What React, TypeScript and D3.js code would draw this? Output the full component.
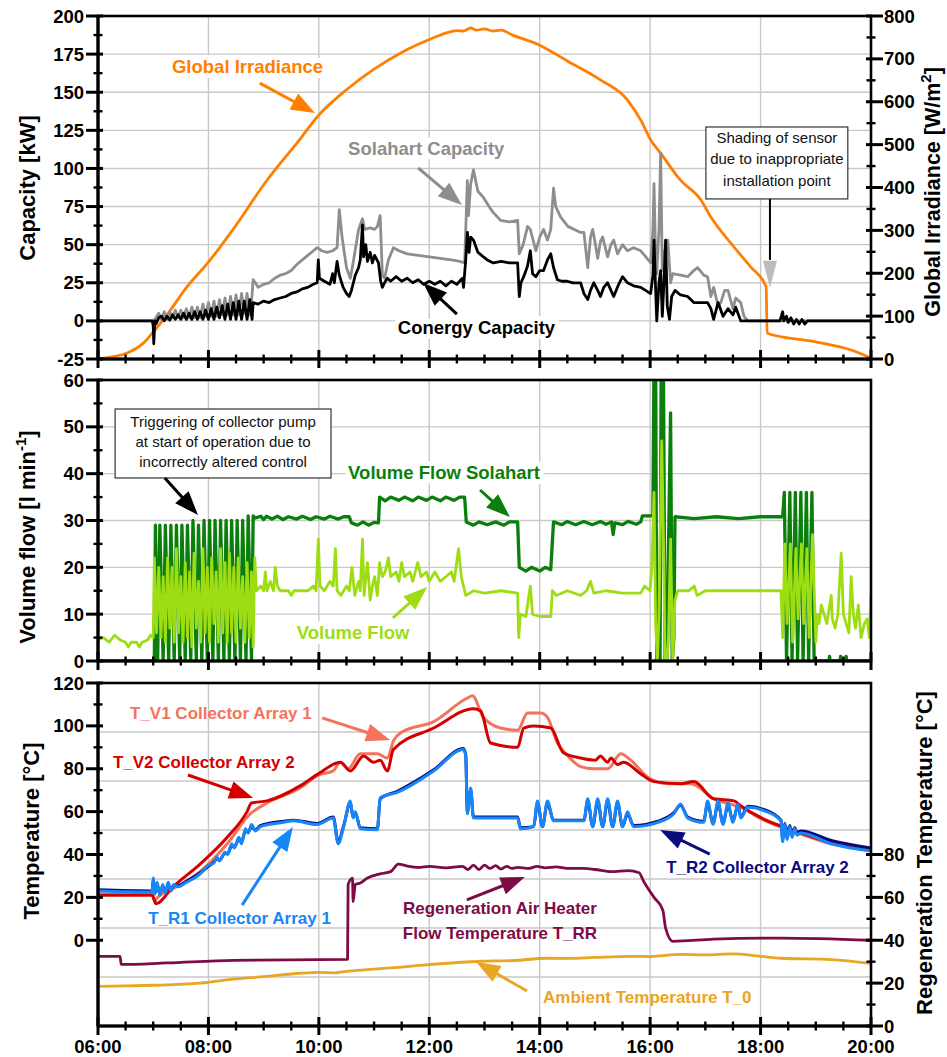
import React from 'react';
import * as d3 from 'd3';

type Pt = [number, number];

// ---------------- DATA (hours of day, value) ----------------
const timeTicks = ['06:00', '08:00', '10:00', '12:00', '14:00', '16:00', '18:00', '20:00'];
const capTicks = [-25, 0, 25, 50, 75, 100, 125, 150, 175, 200];
const irrTicks = [0, 100, 200, 300, 400, 500, 600, 700, 800];
const flowTicks = [0, 10, 20, 30, 40, 50, 60];
const tempTicks = [0, 20, 40, 60, 80, 100, 120];
const regTicks = [0, 20, 40, 60, 80];

const globalIrradiance: Pt[] = [
  [6.0, 0], [6.25, 5], [6.53, 14], [6.82, 37], [7.0, 63], [7.25, 103], [7.61, 168], [8.0, 226],
  [8.45, 303], [9.06, 417], [9.66, 513], [10.0, 569], [10.5, 628], [11.0, 676], [11.5, 715],
  [12.0, 745], [12.3, 760], [12.5, 766], [12.62, 765], [12.75, 772], [12.85, 767], [13.0, 770],
  [13.15, 765], [13.3, 767], [13.5, 756], [14.0, 732], [14.5, 695], [15.1, 651], [15.59, 604],
  [15.83, 557], [16.01, 511], [16.19, 480], [16.55, 417], [16.92, 371], [17.1, 331], [17.52, 261],
  [17.82, 215], [18.08, 174], [18.1, 168], [18.12, 60], [19.0, 40], [19.64, 21], [20.0, 2],
];

const conergyCapacity: Pt[] = [
  [6.0, 0], [6.98, 0], [7.0, -3], [7.01, -15], [7.03, 0], [7.05, -2], [7.1, 2], [7.15, 3], [7.2, 0],
  [7.25, 3], [7.3, 0.5], [7.35, 4], [7.4, 1], [7.45, 4], [7.5, 1], [7.55, 5], [7.6, 1], [7.65, 5],
  [7.7, 1], [7.75, 6], [7.8, 1], [7.85, 6], [7.9, 1], [7.95, 7], [8.0, 1], [8.05, 8], [8.1, 1],
  [8.15, 9], [8.2, 2], [8.25, 10], [8.3, 1], [8.35, 11], [8.4, 1], [8.45, 12], [8.5, 1], [8.55, 13],
  [8.6, 1], [8.65, 13], [8.7, 1], [8.75, 14], [8.79, 1], [8.81, 12], [8.9, 11], [9.0, 13], [9.1, 12],
  [9.2, 14], [9.3, 15], [9.4, 16], [9.5, 18], [9.6, 19], [9.7, 21], [9.8, 22], [9.9, 24], [9.97, 25],
  [9.99, 40], [10.01, 28], [10.1, 26], [10.2, 24], [10.25, 31], [10.28, 25], [10.33, 39], [10.37, 30],
  [10.44, 22], [10.5, 18], [10.55, 16], [10.59, 20], [10.66, 30], [10.72, 35], [10.75, 40], [10.79, 63],
  [10.81, 42], [10.85, 50], [10.88, 39], [10.93, 45], [10.97, 38], [11.01, 43], [11.08, 38], [11.12, 26],
  [11.15, 22], [11.19, 25], [11.24, 28], [11.3, 26], [11.4, 29], [11.5, 26], [11.6, 28], [11.7, 25],
  [11.8, 27], [11.9, 24], [12.0, 26], [12.1, 24], [12.2, 26], [12.3, 23], [12.4, 26], [12.5, 24],
  [12.6, 28], [12.62, 22], [12.66, 40], [12.69, 58], [12.72, 45], [12.75, 55], [12.8, 53], [12.88, 45],
  [12.98, 42], [13.05, 40], [13.16, 38], [13.3, 39], [13.45, 38], [13.6, 38], [13.63, 16], [13.66, 25],
  [13.71, 29], [13.78, 36], [13.83, 46], [13.87, 31], [13.93, 29], [14.0, 33], [14.07, 33], [14.14, 40],
  [14.2, 44], [14.25, 35], [14.32, 27], [14.4, 26], [14.5, 26], [14.6, 25], [14.74, 25], [14.8, 18],
  [14.87, 14], [14.92, 20], [14.98, 25], [15.05, 20], [15.1, 16], [15.16, 22], [15.23, 25], [15.29, 20],
  [15.34, 16], [15.43, 24], [15.5, 29], [15.59, 25], [15.7, 23], [15.83, 22], [15.96, 19], [16.01, 18],
  [16.05, 30], [16.07, 53], [16.1, 20], [16.12, 0], [16.16, 25], [16.19, 33], [16.22, 3], [16.25, 25],
  [16.28, 53], [16.31, 10], [16.35, 1], [16.39, 16], [16.45, 20], [16.55, 17], [16.68, 16], [16.79, 12],
  [16.92, 12], [17.04, 12], [17.1, 8], [17.15, 1], [17.23, 12], [17.32, 3], [17.41, 8], [17.5, 4],
  [17.55, 9], [17.64, 0], [17.77, 0], [18.0, 0], [18.35, 0], [18.4, 6], [18.42, 0], [18.47, 3],
  [18.5, -1], [18.55, 2], [18.6, -2], [18.65, 1], [18.7, -2], [18.75, 1], [18.8, -2], [18.85, 0], [20.0, 0],
];

const solahartCapacity: Pt[] = [
  [6.0, 0], [7.0, 0], [7.03, 1], [7.1, 5], [7.15, 1], [7.2, 6], [7.25, 1], [7.3, 6], [7.35, 2], [7.4, 7],
  [7.45, 2], [7.5, 7], [7.55, 2], [7.6, 8], [7.65, 2], [7.7, 9], [7.75, 2], [7.8, 9], [7.85, 2], [7.9, 11],
  [7.95, 3], [8.0, 12], [8.05, 3], [8.1, 13], [8.15, 3], [8.2, 14], [8.25, 4], [8.3, 15], [8.35, 4],
  [8.4, 16], [8.45, 4], [8.5, 17], [8.55, 4], [8.6, 18], [8.65, 5], [8.7, 18], [8.75, 4], [8.79, 17],
  [8.81, 27], [8.85, 25], [8.9, 22], [9.0, 24], [9.1, 25], [9.2, 28], [9.3, 30], [9.4, 31], [9.5, 33],
  [9.6, 37], [9.7, 40], [9.8, 43], [9.9, 46], [9.97, 48], [10.05, 46], [10.15, 45], [10.25, 46],
  [10.33, 48], [10.37, 73], [10.42, 55], [10.5, 35], [10.57, 28], [10.62, 38], [10.72, 60], [10.79, 67],
  [10.83, 60], [10.93, 61], [11.01, 60], [11.06, 62], [11.11, 69], [11.15, 30], [11.19, 28], [11.26, 40],
  [11.35, 48], [11.45, 46], [11.6, 44], [11.8, 43], [12.0, 42], [12.2, 41], [12.4, 40], [12.55, 39],
  [12.64, 38], [12.69, 92], [12.71, 69], [12.75, 90], [12.8, 99], [12.88, 85], [12.98, 81], [13.1, 74],
  [13.16, 71], [13.29, 66], [13.45, 65], [13.6, 66], [13.63, 44], [13.7, 50], [13.78, 62], [13.83, 60],
  [13.93, 46], [14.0, 55], [14.07, 60], [14.14, 53], [14.2, 60], [14.25, 87], [14.29, 75], [14.38, 68],
  [14.51, 62], [14.74, 58], [14.8, 58], [14.87, 35], [14.92, 55], [14.96, 60], [15.01, 50], [15.05, 41],
  [15.1, 52], [15.14, 55], [15.23, 42], [15.29, 50], [15.34, 53], [15.41, 44], [15.5, 50], [15.59, 46],
  [15.7, 48], [15.83, 46], [16.01, 38], [16.05, 60], [16.07, 90], [16.1, 40], [16.12, 31], [16.16, 60],
  [16.19, 110], [16.22, 33], [16.26, 45], [16.32, 53], [16.37, 25], [16.41, 31], [16.55, 30],
  [16.68, 29], [16.79, 33], [16.86, 35], [16.97, 30], [17.04, 29], [17.1, 16], [17.15, 22], [17.23, 10],
  [17.28, 12], [17.35, 20], [17.41, 20], [17.5, 8], [17.55, 15], [17.64, 12], [17.7, 3], [17.77, 0],
  [20.0, 0],
];

const volumeFlowSolahart: Pt[] = [
  [6.0, 0], [7.0, 0], [7.02, 0], [7.04, 29], [7.08, 0], [7.12, 29], [7.18, 0], [7.22, 29], [7.28, 0],
  [7.32, 29], [7.38, 0], [7.42, 29], [7.48, 0], [7.52, 29], [7.58, 0], [7.62, 29], [7.68, 0], [7.72, 30],
  [7.78, 0], [7.82, 29], [7.88, 0], [7.92, 30], [7.98, 0], [8.02, 30], [8.08, 0], [8.12, 30], [8.18, 0],
  [8.22, 30], [8.28, 0], [8.32, 30], [8.38, 0], [8.42, 30], [8.48, 0], [8.52, 30], [8.58, 0], [8.62, 30],
  [8.68, 0], [8.72, 31], [8.78, 0], [8.81, 31], [8.84, 30.5], [8.95, 30.9], [9.0, 30.2], [9.05, 30.9],
  [9.15, 30.3], [9.25, 30.9], [9.35, 30.2], [9.45, 30.8], [9.6, 30.3], [9.7, 30.9], [9.85, 30.2],
  [9.95, 30.8], [10.1, 30.3], [10.2, 30.9], [10.35, 30.3], [10.45, 30.8], [10.55, 30.8], [10.59, 29.5],
  [10.7, 29.0], [10.8, 29.7], [10.9, 29.0], [11.0, 29.6], [11.08, 29.5], [11.1, 35], [11.2, 34.2],
  [11.3, 35], [11.45, 34.3], [11.55, 35], [11.7, 34.2], [11.8, 35], [11.95, 34.3], [12.05, 35],
  [12.2, 34.2], [12.3, 35], [12.45, 34.3], [12.55, 35], [12.64, 35], [12.67, 29.7], [12.8, 29.0],
  [12.9, 29.7], [13.05, 29.1], [13.2, 29.7], [13.35, 29.0], [13.45, 29.7], [13.6, 29.7], [13.63, 20],
  [13.75, 19.2], [13.85, 20], [14.0, 19.2], [14.1, 20], [14.2, 19.5], [14.25, 29.7], [14.4, 29.1],
  [14.5, 29.8], [14.65, 29.1], [14.8, 29.8], [14.95, 29.1], [15.1, 29.8], [15.2, 29.2], [15.3, 29.7],
  [15.33, 27], [15.36, 29.5], [15.5, 29.1], [15.6, 29.8], [15.75, 29.2], [15.83, 29.7], [15.86, 31],
  [16.05, 31], [16.07, 65], [16.1, 65], [16.12, 0], [16.18, 0], [16.2, 65], [16.24, 65], [16.27, 0],
  [16.3, 0], [16.37, 53], [16.4, 0], [16.43, 5], [16.45, 30.8], [16.8, 30.4], [17.2, 30.8],
  [17.6, 30.4], [18.0, 30.8], [18.4, 30.8], [18.43, 36], [18.47, 0], [18.53, 36], [18.57, 0],
  [18.63, 36], [18.67, 0], [18.73, 36], [18.77, 0], [18.83, 36], [18.87, 0], [18.93, 36], [18.97, 0],
  [19.24, 0], [19.25, 1], [19.26, 0], [19.44, 0], [19.45, 1], [19.46, 0], [19.54, 0], [19.55, 1],
  [19.56, 0], [20.0, 0],
];

const volumeFlow: Pt[] = [
  [6.0, 4.5], [6.1, 5], [6.2, 4], [6.3, 5.5], [6.4, 4.5], [6.5, 4], [6.55, 3], [6.6, 4], [6.7, 4],
  [6.75, 3], [6.8, 4], [6.9, 4.5], [6.95, 5.5], [7.0, 5], [7.02, 22], [7.06, 6], [7.1, 20], [7.14, 5],
  [7.18, 18], [7.22, 4], [7.26, 22], [7.3, 7], [7.34, 20], [7.38, 4], [7.42, 24], [7.46, 6], [7.5, 18],
  [7.54, 4], [7.58, 21], [7.62, 5], [7.66, 19], [7.7, 3], [7.74, 23], [7.78, 7], [7.82, 17], [7.86, 4],
  [7.9, 24], [7.94, 6], [7.98, 20], [8.02, 4], [8.06, 22], [8.1, 8], [8.14, 19], [8.18, 4], [8.22, 24],
  [8.26, 6], [8.3, 21], [8.34, 4], [8.38, 23], [8.42, 6], [8.46, 20], [8.5, 4], [8.54, 22], [8.58, 7],
  [8.62, 18], [8.66, 4], [8.7, 21], [8.74, 5], [8.78, 19], [8.81, 3], [8.84, 22], [8.87, 15], [8.95, 16],
  [9.0, 15], [9.03, 19], [9.06, 15], [9.12, 17], [9.18, 15], [9.21, 20], [9.25, 16], [9.3, 15],
  [9.45, 15], [9.5, 14], [9.55, 15], [9.8, 15], [9.9, 16], [9.95, 15], [9.99, 26], [10.02, 16],
  [10.1, 15], [10.2, 17], [10.26, 16], [10.3, 24], [10.33, 15], [10.4, 14], [10.5, 16], [10.55, 15],
  [10.6, 20], [10.65, 14], [10.72, 17], [10.75, 15], [10.79, 26], [10.82, 14], [10.88, 21], [10.93, 13],
  [10.97, 16], [11.01, 18], [11.06, 14], [11.1, 21], [11.15, 18], [11.2, 19], [11.26, 22], [11.3, 18],
  [11.4, 19], [11.45, 17], [11.5, 21], [11.55, 18], [11.65, 19], [11.7, 17], [11.79, 21], [11.85, 18],
  [11.95, 19], [12.0, 17], [12.1, 19], [12.2, 17], [12.3, 18], [12.4, 19], [12.45, 17], [12.53, 24],
  [12.58, 18], [12.64, 15], [12.66, 14], [12.8, 15], [13.0, 14.5], [13.3, 15], [13.6, 14.5], [13.62, 5],
  [13.65, 10], [13.75, 9.5], [13.83, 16], [13.87, 10], [14.0, 9.5], [14.2, 9.5], [14.23, 15], [14.3, 14],
  [14.5, 15], [14.74, 14], [14.85, 15], [14.92, 17], [14.98, 14.5], [15.2, 15], [15.5, 14.5],
  [15.83, 14.5], [15.9, 16], [16.0, 15], [16.03, 20], [16.07, 36], [16.1, 8], [16.13, 0], [16.16, 10],
  [16.21, 47], [16.25, 20], [16.27, 0], [16.3, 0], [16.33, 4], [16.37, 26], [16.41, 0], [16.45, 13],
  [16.5, 15], [16.7, 15], [16.8, 16], [16.85, 14], [17.0, 15], [17.5, 15], [17.8, 15], [18.2, 15],
  [18.37, 15], [18.4, 5], [18.44, 25], [18.48, 8], [18.54, 25], [18.58, 4], [18.64, 24], [18.68, 9],
  [18.74, 25], [18.78, 8], [18.84, 24], [18.88, 5], [18.94, 27], [19.0, 4], [19.03, 10], [19.06, 8],
  [19.1, 12], [19.15, 10], [19.2, 8], [19.24, 11], [19.28, 14], [19.3, 9], [19.35, 7], [19.4, 10],
  [19.46, 23], [19.5, 10], [19.55, 8], [19.6, 6], [19.64, 18], [19.68, 10], [19.72, 7], [19.77, 12],
  [19.82, 5], [19.88, 8], [19.93, 9], [19.97, 5], [20.0, 14],
];

const tV1: Pt[] = [
  [6.0, 21.5], [6.98, 21.5], [7.03, 18], [7.07, 19.7], [7.36, 24], [7.85, 32], [8.34, 45], [8.76, 59],
  [9.06, 64], [9.66, 71], [9.99, 77], [10.26, 79], [10.39, 83], [10.53, 80], [10.75, 87], [10.88, 87],
  [11.06, 87], [11.24, 85], [11.35, 93], [11.5, 97], [12.08, 102], [12.69, 113], [12.78, 114],
  [12.98, 104], [13.29, 99], [13.6, 98], [13.78, 106], [13.89, 106], [14.02, 106], [14.14, 104],
  [14.32, 92], [14.51, 86], [14.74, 81], [14.98, 80], [15.23, 80], [15.47, 87], [15.65, 84],
  [15.96, 76], [16.32, 73], [16.74, 73], [17.15, 66], [17.64, 62], [18.06, 56], [18.68, 50],
  [19.28, 45], [20.0, 42.5],
];

const tV2: Pt[] = [
  [6.0, 21], [6.98, 21], [7.05, 17], [7.36, 25], [7.85, 35.5], [8.34, 48], [8.7, 60], [8.78, 64],
  [9.06, 65], [9.66, 72], [9.99, 77.6], [10.39, 83], [10.57, 79], [10.81, 86], [10.99, 83], [11.11, 84],
  [11.24, 79], [11.35, 89], [12.08, 99], [12.8, 108], [12.93, 107], [13.11, 92], [13.6, 90],
  [13.71, 99], [13.89, 100], [14.2, 99], [14.43, 87.5], [14.74, 85], [15.01, 84], [15.1, 86],
  [15.23, 83], [15.29, 85], [15.41, 82], [15.52, 83], [15.83, 77.6], [16.07, 74], [16.55, 73],
  [16.79, 74], [17.15, 66], [17.52, 65], [17.64, 62.7], [18.06, 56.5], [18.68, 50.5], [19.28, 45.5],
  [20.0, 42.8],
];

const tR1: Pt[] = [
  [6.0, 23], [6.98, 22.5], [7.0, 29], [7.03, 21.5], [7.07, 27], [7.12, 21], [7.17, 26], [7.22, 22],
  [7.27, 27], [7.32, 23], [7.37, 26], [7.45, 25], [7.6, 27], [7.85, 31], [8.0, 35], [8.1, 36],
  [8.15, 39], [8.2, 37], [8.3, 41], [8.35, 40], [8.42, 45], [8.47, 43], [8.55, 48], [8.6, 45],
  [8.67, 52], [8.72, 50], [8.78, 54], [8.85, 51], [8.94, 53], [9.36, 55], [9.54, 55.7], [9.97, 54],
  [10.26, 57], [10.35, 45], [10.45, 53], [10.57, 65], [10.62, 57], [10.66, 60], [10.75, 52],
  [11.06, 51.5], [11.11, 66.5], [11.42, 69], [12.08, 79], [12.62, 89], [12.66, 86], [12.69, 59],
  [12.75, 71], [12.8, 57], [13.29, 57], [13.6, 57], [13.65, 52], [13.89, 53], [13.96, 65], [14.05, 53],
  [14.14, 65], [14.25, 55.7], [14.8, 55.7], [14.87, 66], [14.96, 53], [15.05, 66], [15.14, 53],
  [15.23, 66], [15.32, 53], [15.41, 65], [15.5, 53], [15.59, 60], [15.7, 53], [16.14, 55], [16.43, 59],
  [16.55, 63.6], [16.68, 57], [16.97, 55], [17.04, 65], [17.14, 54], [17.23, 65], [17.32, 54],
  [17.41, 64], [17.5, 55], [17.59, 63.6], [17.64, 57], [17.77, 62], [18.06, 60.5], [18.37, 55.7],
  [18.4, 46], [18.44, 54], [18.48, 47], [18.53, 53], [18.57, 48], [18.62, 52], [18.66, 49], [18.73, 50],
  [19.28, 45], [20.0, 41.6],
];

const tR2: Pt[] = [
  [6.0, 23.5], [6.98, 23], [7.0, 28], [7.03, 22], [7.07, 26], [7.12, 21.5], [7.17, 25], [7.22, 22.5],
  [7.27, 26], [7.32, 23.5], [7.37, 25.5], [7.45, 25.5], [7.6, 27.5], [7.85, 31.5], [8.0, 34.5],
  [8.1, 36.5], [8.15, 38], [8.2, 37.5], [8.3, 40.5], [8.35, 40.5], [8.42, 44], [8.47, 43.5], [8.55, 47],
  [8.6, 46], [8.67, 51], [8.72, 50.5], [8.78, 53], [8.85, 51.5], [8.94, 53.5], [9.36, 55.5], [9.54, 56],
  [9.97, 54.5], [10.26, 57.5], [10.35, 46], [10.45, 53.5], [10.57, 64], [10.62, 57.5], [10.66, 59.5],
  [10.75, 52.5], [11.06, 52], [11.11, 66], [11.42, 69.5], [12.08, 79.5], [12.62, 89.5], [12.66, 86.5],
  [12.69, 60], [12.75, 70], [12.8, 57.5], [13.29, 57.5], [13.6, 57.5], [13.65, 52.5], [13.89, 53],
  [13.96, 64], [14.05, 53], [14.14, 64], [14.25, 56], [14.8, 56], [14.87, 65], [14.96, 53], [15.05, 65],
  [15.14, 53], [15.23, 65], [15.32, 53], [15.41, 64], [15.5, 53], [15.59, 59], [15.7, 53.5],
  [16.14, 55.5], [16.43, 59.5], [16.55, 63], [16.68, 57.5], [16.97, 55.5], [17.04, 64], [17.14, 54.5],
  [17.23, 64], [17.32, 54.5], [17.41, 63], [17.5, 55.5], [17.59, 63], [17.64, 57.5], [17.77, 62.5],
  [18.06, 61], [18.37, 56], [18.4, 47], [18.44, 54.5], [18.48, 48], [18.53, 53.5], [18.57, 49],
  [18.62, 52.5], [18.66, 50], [18.73, 51], [19.28, 46.5], [20.0, 43],
];

// regeneration temperature T_RR and ambient T_0 are plotted against the left (°C) axis
const tRR: Pt[] = [
  [6.0, -7.5], [6.4, -7.5], [6.42, -11.3], [7.25, -10.6], [8.45, -9.4], [10.52, -8.9], [10.53, 26],
  [10.61, 29], [10.62, 18], [10.66, 26], [10.75, 26.7], [10.88, 29], [11.11, 31], [11.3, 32],
  [11.44, 35.5], [11.6, 34.6], [11.8, 34], [12.0, 34.5], [12.3, 33.8], [12.6, 34.5], [12.7, 33],
  [12.8, 35], [12.9, 33], [13.0, 35], [13.1, 33.5], [13.2, 34.8], [13.3, 33.2], [13.4, 34.5],
  [13.5, 33.5], [13.6, 34], [13.8, 33.5], [13.95, 34.5], [14.1, 33.8], [14.3, 34.2], [14.5, 33.5],
  [14.8, 33.5], [15.0, 33], [15.3, 32], [15.6, 32.5], [15.8, 31.5], [15.88, 27.6], [16.07, 20],
  [16.23, 14], [16.28, 5.6], [16.41, -0.5], [17.15, 0.5], [18.37, 1], [20.0, 0],
];

const tAmbient: Pt[] = [
  [6.0, -21.5], [6.5, -21.3], [7.0, -21], [7.85, -20], [8.5, -18], [9.0, -17], [9.66, -15.4],
  [10.0, -15], [10.3, -15.2], [10.5, -14.5], [10.88, -13.7], [11.5, -12.5], [12.08, -11.2],
  [12.93, -9.8], [13.5, -9.5], [14.14, -8.4], [14.5, -8.5], [15.0, -8], [15.65, -7.5], [16.0, -7.6],
  [16.55, -6.6], [17.0, -6.8], [17.5, -6.4], [18.0, -7.5], [18.37, -8.4], [19.28, -9], [20.0, -10.8],
];

// ---------------- LAYOUT ----------------
const W = 947;
const H = 1057;
const X0 = 98;
const X1 = 871;
const P1 = { top: 16, bottom: 359 };
const P2 = { top: 380, bottom: 661 };
const P3 = { top: 683, bottom: 1026 };
const FONT = '"Liberation Sans", Arial, Helvetica, sans-serif';

const C = {
  irr: '#FF8000',
  sol: '#8E8E8E',
  con: '#000000',
  vfs: '#0B7F0B',
  vf: '#9EDD14',
  tv1: '#F4735D',
  tv2: '#D40000',
  tr1: '#1786F8',
  tr2: '#0B0B7E',
  trr: '#7D0C46',
  amb: '#E9A524',
  grid: '#C9C9C9',
};

const x = d3.scaleLinear().domain([6, 20]).range([X0, X1]);
const yCap = d3.scaleLinear().domain([-25, 200]).range([P1.bottom, P1.top]);
const yIrr = d3.scaleLinear().domain([0, 800]).range([P1.bottom, P1.top]);
const yFlow = d3.scaleLinear().domain([0, 60]).range([P2.bottom, P2.top]);
const yTemp = d3.scaleLinear().domain([-40, 120]).range([P3.bottom, P3.top]);
const yReg = d3.scaleLinear().domain([0, 160]).range([P3.bottom, P3.top]);

const mkLine = (ys: d3.ScaleLinear<number, number>, smooth = false) => {
  const l = d3.line<Pt>().x((d) => x(d[0])).y((d) => ys(d[1]));
  return smooth ? l.curve(d3.curveMonotoneX) : l;
};

function Arrow({ t1, v1, t2, v2, ys, color, len = 24, w = 18, sw = 3 }: any) {
  const x1 = x(t1), y1 = ys(v1), x2 = x(t2), y2 = ys(v2);
  const dx = x2 - x1, dy = y2 - y1;
  const L = Math.hypot(dx, dy);
  const ux = dx / L, uy = dy / L;
  const bx = x2 - ux * len, by = y2 - uy * len;
  const px = (-uy * w) / 2, py = (ux * w) / 2;
  return (
    <g>
      <line x1={x1} y1={y1} x2={bx + ux * 3} y2={by + uy * 3} stroke={color} strokeWidth={sw} />
      <polygon points={`${x2},${y2} ${bx + px},${by + py} ${bx - px},${by - py}`} fill={color} />
    </g>
  );
}

function Label({ t, v, ys, color, size, anchor = 'start', children }: any) {
  return (
    <text x={x(t)} y={ys(v)} fill={color} fontSize={size} fontWeight="bold" textAnchor={anchor}
      fontFamily={FONT}>{children}</text>
  );
}

function Halo({ t, v, ys, size, anchor = 'start', children }: any) {
  return (
    <text x={x(t)} y={ys(v)} fill="#fff" stroke="#fff" strokeWidth={10} strokeLinejoin="round"
      fontSize={size} fontWeight="bold" textAnchor={anchor} fontFamily={FONT}>{children}</text>
  );
}

function Frame({ p }: { p: { top: number; bottom: number } }) {
  const hours = d3.range(6, 20.01, 0.5);
  return (
    <g>
      <rect x={X0} y={p.top} width={X1 - X0} height={p.bottom - p.top} fill="none" stroke="#000" strokeWidth={2.6} />
      <line x1={X0} x2={X0} y1={p.top} y2={p.bottom} stroke="#000" strokeWidth={3.2} />
      <line x1={X0} x2={X1} y1={p.bottom} y2={p.bottom} stroke="#000" strokeWidth={3.2} />
      {hours.map((h, i) => {
        const major = Math.abs(h - Math.round(h / 2) * 2) < 1e-6;
        return (
          <line key={i} x1={x(h)} x2={x(h)} y1={p.bottom - (major ? 9 : 4.5)} y2={p.bottom + (major ? 9 : 4.5)}
            stroke="#000" strokeWidth={major ? 3 : 2.4} />
        );
      })}
    </g>
  );
}

function VGrid({ p }: { p: { top: number; bottom: number } }) {
  return (
    <g>
      {[8, 10, 12, 14, 16, 18].map((h) => (
        <line key={h} x1={x(h)} x2={x(h)} y1={p.top} y2={p.bottom} stroke={C.grid} strokeWidth={1.4} />
      ))}
    </g>
  );
}

function HGrid({ ys }: { ys: number[] }) {
  return (
    <g>
      {ys.map((y, i) => (
        <line key={i} x1={X0} x2={X1} y1={y} y2={y} stroke={C.grid} strokeWidth={1.4} />
      ))}
    </g>
  );
}

function LeftTicks({ ys, majors, minors }: any) {
  return (
    <g>
      {majors.map((v: number) => (
        <g key={'M' + v}>
          <line x1={X0 - 12} x2={X0 + 5} y1={ys(v)} y2={ys(v)} stroke="#000" strokeWidth={3} />
          <text x={84} y={ys(v) + 6.5} textAnchor="end" fontSize={18.5} fontWeight="bold" fontFamily={FONT}>{v}</text>
        </g>
      ))}
      {minors.map((v: number) => (
        <line key={'m' + v} x1={X0 - 4.5} x2={X0 + 4.5} y1={ys(v)} y2={ys(v)} stroke="#000" strokeWidth={2.4} />
      ))}
    </g>
  );
}

function RightTicks({ ys, majors, minors }: any) {
  return (
    <g>
      {majors.map((v: number) => (
        <g key={'M' + v}>
          <line x1={X1 - 5} x2={X1 + 12} y1={ys(v)} y2={ys(v)} stroke="#000" strokeWidth={3} />
          <text x={884} y={ys(v) + 6.5} textAnchor="start" fontSize={18.5} fontWeight="bold" fontFamily={FONT}>{v}</text>
        </g>
      ))}
      {minors.map((v: number) => (
        <line key={'m' + v} x1={X1 - 4.5} x2={X1 + 4.5} y1={ys(v)} y2={ys(v)} stroke="#000" strokeWidth={2.4} />
      ))}
    </g>
  );
}

function Box({ t1, t2, v1, v2, ys, lines, vs }: any) {
  const xm = (x(t1) + x(t2)) / 2;
  return (
    <g>
      <rect x={x(t1)} y={ys(v1)} width={x(t2) - x(t1)} height={ys(v2) - ys(v1)} fill="#fff" stroke="#333" strokeWidth={1.2} />
      {lines.map((s: string, i: number) => (
        <text key={i} x={xm} y={ys(vs[i])} textAnchor="middle" fontSize={15} fontFamily={FONT} fill="#111">{s}</text>
      ))}
    </g>
  );
}

export default function App() {
  const lw = 2.8;
  const capLine = mkLine(yCap);
  const irrLine = mkLine(yIrr, true);
  const flowLine = mkLine(yFlow);
  const tempLine = mkLine(yTemp, true);

  const p3Grid = d3.range(1, 7).map((k) => P3.top + (k * (P3.bottom - P3.top)) / 7);

  return (
    <svg width={W} height={H} viewBox={`0 0 ${W} ${H}`} style={{ position: 'absolute', left: 0, top: 0, background: '#fff' }}
      fontFamily={FONT}>
      <defs>
        <clipPath id="c1"><rect x={X0} y={P1.top} width={X1 - X0} height={P1.bottom - P1.top} /></clipPath>
        <clipPath id="c2"><rect x={X0} y={P2.top} width={X1 - X0} height={P2.bottom - P2.top} /></clipPath>
        <clipPath id="c3"><rect x={X0} y={P3.top} width={X1 - X0} height={P3.bottom - P3.top} /></clipPath>
      </defs>
      <rect x={0} y={0} width={W} height={H} fill="#fff" />

      {/* ---------------- Panel 1 ---------------- */}
      <VGrid p={P1} />
      <HGrid ys={[0, 25, 50, 75, 100, 125, 150, 175].map((v) => yCap(v))} />
      <Halo t={7.34} v={162.9} ys={yCap} size={18.5}>Global Irradiance</Halo>
      <Halo t={10.53} v={109.1} ys={yCap} size={18.5}>Solahart Capacity</Halo>
      <Halo t={11.43} v={-8.3} ys={yCap} size={18.5}>Conergy Capacity</Halo>
      <g clipPath="url(#c1)" fill="none" strokeLinejoin="round">
        <path d={irrLine(globalIrradiance) || ''} stroke={C.irr} strokeWidth={lw} />
        <path d={capLine(solahartCapacity) || ''} stroke={C.sol} strokeWidth={lw} />
        <path d={capLine(conergyCapacity) || ''} stroke={C.con} strokeWidth={lw} />
      </g>
      <Frame p={P1} />
      <LeftTicks ys={yCap} majors={capTicks} minors={d3.range(-12.5, 200, 25)} />
      <RightTicks ys={yIrr} majors={irrTicks} minors={d3.range(50, 800, 100)} />
      <Label t={7.34} v={162.9} ys={yCap} color={C.irr} size={18.5}>Global Irradiance</Label>
      <Arrow t1={8.93} v1={156} t2={9.93} v2={136.4} ys={yCap} color={C.irr} />
      <Label t={10.53} v={109.1} ys={yCap} color={C.sol} size={18.5}>Solahart Capacity</Label>
      <Arrow t1={11.8} v1={100.3} t2={12.59} v2={76} ys={yCap} color={C.sol} />
      <Label t={11.43} v={-8.3} ys={yCap} color={C.con} size={18.5}>Conergy Capacity</Label>
      <Arrow t1={12.5} v1={4.5} t2={11.89} v2={24.9} ys={yCap} color={C.con} />
      <Box t1={17.01} t2={19.58} v1={127.2} v2={80} ys={yCap}
        lines={['Shading of sensor', 'due to inappropriate', 'installation point']} vs={[116.4, 102.6, 88.8]} />
      <line x1={x(18.17)} x2={x(18.17)} y1={yCap(80)} y2={yCap(40)} stroke="#000" strokeWidth={2} />
      <polygon points={`${x(18.17)},${yCap(21.6)} ${x(18.17) - 7},${yCap(39.5)} ${x(18.17) + 7},${yCap(39.5)}`} fill="#BDBDBD" />
      <text transform={`translate(35,188) rotate(-90)`} textAnchor="middle" fontSize={22} fontWeight="bold">Capacity [kW]</text>
      <text transform={`translate(940,192) rotate(-90)`} textAnchor="middle" fontSize={21.5} fontWeight="bold">
        Global Irradiance [W/m<tspan dy={-9} fontSize={15}>2</tspan><tspan dy={9}>]</tspan>
      </text>

      {/* ---------------- Panel 2 ---------------- */}
      <VGrid p={P2} />
      <HGrid ys={[10, 20, 30, 40, 50].map((v) => yFlow(v))} />
      <Halo t={10.53} v={38.76} ys={yFlow} size={18.5}>Volume Flow Solahart</Halo>
      <Halo t={9.6} v={4.8} ys={yFlow} size={18.5}>Volume Flow</Halo>
      <g clipPath="url(#c2)" fill="none" strokeLinejoin="round">
        <path d={flowLine(volumeFlowSolahart) || ''} stroke={C.vfs} strokeWidth={3.3} />
        <path d={flowLine(volumeFlow) || ''} stroke={C.vf} strokeWidth={lw} />
      </g>
      <Frame p={P2} />
      <LeftTicks ys={yFlow} majors={flowTicks} minors={d3.range(5, 60, 10)} />
      <Box t1={6.31} t2={10.22} v1={53.81} v2={39.08} ys={yFlow}
        lines={['Triggering of collector pump', 'at start of operation due to', 'incorrectly altered control']}
        vs={[49.97, 45.69, 41.42]} />
      <Arrow t1={7.21} v1={39.08} t2={7.81} v2={31.17} ys={yFlow} color="#000" />
      <Label t={10.53} v={38.76} ys={yFlow} color={C.vfs} size={18.5}>Volume Flow Solahart</Label>
      <Arrow t1={12.92} v1={36.51} t2={13.46} v2={30.75} ys={yFlow} color={C.vfs} />
      <Label t={9.6} v={4.8} ys={yFlow} color={C.vf} size={18.5}>Volume Flow</Label>
      <Arrow t1={11.34} v1={9.18} t2={11.96} v2={15.8} ys={yFlow} color={C.vf} />
      <text transform={`translate(35,537) rotate(-90)`} textAnchor="middle" fontSize={22} fontWeight="bold">
        Volume flow [l min<tspan dy={-9} fontSize={15}>-1</tspan><tspan dy={9}>]</tspan>
      </text>

      {/* ---------------- Panel 3 ---------------- */}
      <VGrid p={P3} />
      <HGrid ys={p3Grid} />
      <g clipPath="url(#c3)" fill="none" strokeLinejoin="round">
        <path d={tempLine(tAmbient) || ''} stroke={C.amb} strokeWidth={lw} />
        <path d={tempLine(tRR) || ''} stroke={C.trr} strokeWidth={lw} />
        <path d={tempLine(tV1) || ''} stroke={C.tv1} strokeWidth={3} />
        <path d={tempLine(tV2) || ''} stroke={C.tv2} strokeWidth={3} />
        <path d={tempLine(tR2) || ''} stroke={C.tr2} strokeWidth={3} />
        <path d={tempLine(tR1) || ''} stroke={C.tr1} strokeWidth={3} />
      </g>
      <Frame p={P3} />
      <LeftTicks ys={yTemp} majors={tempTicks} minors={d3.range(10, 120, 20)} />
      <RightTicks ys={yReg} majors={regTicks} minors={d3.range(10, 80, 20)} />
      {timeTicks.map((s, i) => (
        <text key={s} x={x(6 + i * 2)} y={1053} textAnchor="middle" fontSize={18.5} fontWeight="bold">{s}</text>
      ))}
      <Label t={6.58} v={103.2} ys={yTemp} color={C.tv1} size={17}>T_V1 Collector Array 1</Label>
      <Arrow t1={10.06} v1={103.7} t2={11.29} v2={93.4} ys={yTemp} color={C.tv1} />
      <Label t={6.27} v={80.35} ys={yTemp} color={C.tv2} size={17}>T_V2 Collector Array 2</Label>
      <Arrow t1={7.63} v1={77.1} t2={8.81} v2={66.4} ys={yTemp} color={C.tv2} />
      <Label t={6.91} v={7.58} ys={yTemp} color={C.tr1} size={17}>T_R1 Collector Array 1</Label>
      <Arrow t1={8.61} v1={16.4} t2={9.53} v2={52.8} ys={yTemp} color={C.tr1} />
      <Label t={16.29} v={31.37} ys={yTemp} color={C.tr2} size={17}>T_R2 Collector Array 2</Label>
      <Arrow t1={17.08} v1={40.2} t2={16.18} v2={51.4} ys={yTemp} color={C.tr2} />
      <Label t={13.28} v={12.25} ys={yTemp} color={C.trr} size={17} anchor="middle">Regeneration Air Heater</Label>
      <Label t={13.28} v={0.58} ys={yTemp} color={C.trr} size={17} anchor="middle">Flow Temperature T_RR</Label>
      <Arrow t1={12.68} v1={18.8} t2={13.73} v2={29.5} ys={yTemp} color={C.trr} />
      <Label t={14.06} v={-29.3} ys={yTemp} color={C.amb} size={17}>Ambient Temperature T_0</Label>
      <Arrow t1={13.77} v1={-23.7} t2={12.85} v2={-10.1} ys={yTemp} color={C.amb} />
      <text transform={`translate(39,831) rotate(-90)`} textAnchor="middle" fontSize={22} fontWeight="bold">Temperature [°C]</text>
      <text transform={`translate(932,853) rotate(-90)`} textAnchor="middle" fontSize={22} fontWeight="bold">Regeneration Temperature [°C]</text>
    </svg>
  );
}
